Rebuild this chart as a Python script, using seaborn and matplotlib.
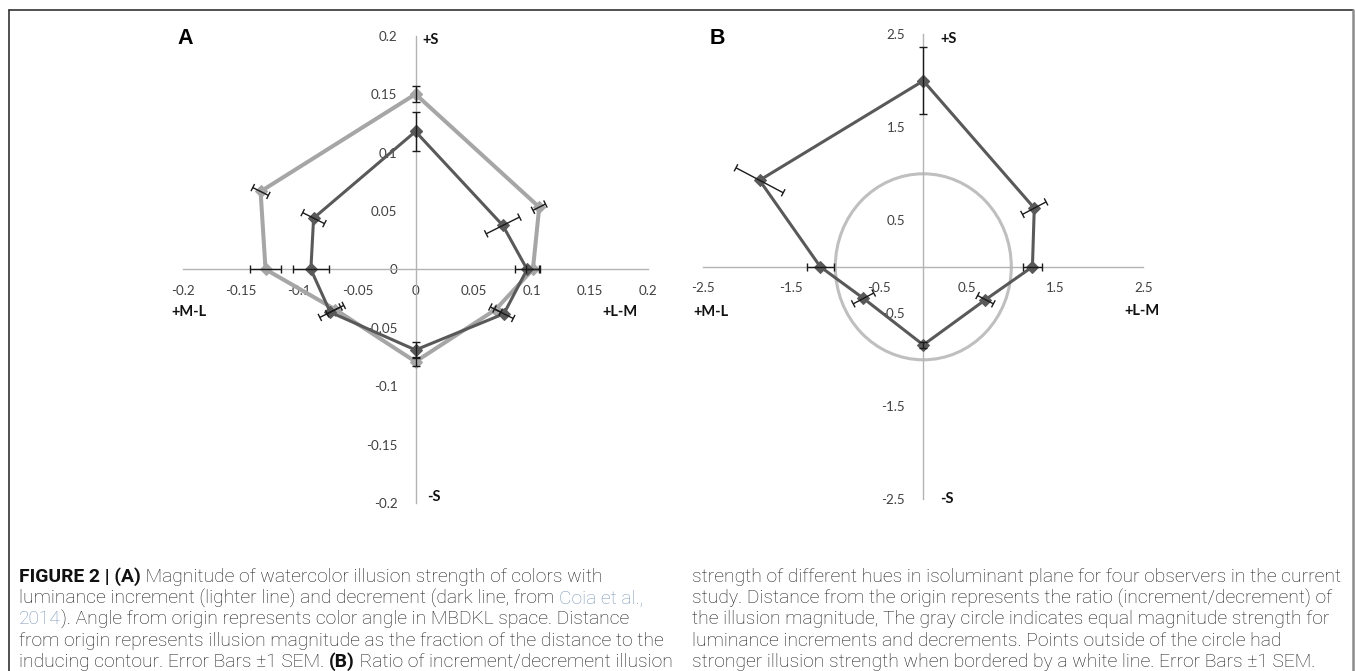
import numpy as np
import pandas as pd
import matplotlib
matplotlib.use("Agg")
import matplotlib.pyplot as plt
import seaborn as sns
from matplotlib.patches import Circle
from matplotlib.lines import Line2D

# ---------------- data ----------------
hue_angles_deg = [90, 26.57, 0, 333.43, 270, 206.57, 180, 153.43]

# Panel A: illusion magnitude (fraction of distance to inducing contour)
decrement_mag = [0.118, 0.084, 0.096, 0.085, 0.069, 0.082, 0.090, 0.098]
decrement_sem = [0.017, 0.016, 0.010, 0.009, 0.007, 0.010, 0.0155, 0.0105]
increment_mag = [0.150, 0.119, 0.101, 0.077, 0.079, 0.077, 0.129, 0.149]
increment_sem = [0.007, 0.006, 0.006, 0.005, 0.004, 0.008, 0.0135, 0.0075]

# Panel B: ratio increment / decrement
ratio_mag = [2.00, 1.41, 1.24, 0.79, 0.84, 0.76, 1.17, 2.08]
ratio_sem = [0.36, 0.15, 0.11, 0.10, 0.03, 0.13, 0.155, 0.30]
equal_strength_radius = 1.0

ticks_a = [-0.2, -0.15, -0.1, -0.05, 0, 0.05, 0.1, 0.15, 0.2]
tick_labels_a = ["-0.2", "-0.15", "-0.1", "-0.05", "0", "0.05", "0.1", "0.15", "0.2"]
ticks_b = [-2.5, -1.5, -0.5, 0.5, 1.5, 2.5]
tick_labels_b = ["-2.5", "-1.5", "-0.5", "0.5", "1.5", "2.5"]

axis_labels = {"up": "+S", "down": "-S", "left": "+M-L", "right": "+L-M"}

caption_left = [
    [("FIGURE 2 | (A)", "b"), (" Magnitude of watercolor illusion strength of colors with", "n")],
    [("luminance increment (lighter line) and decrement (dark line, from ", "n"), ("Coia et al.,", "l")],
    [("2014", "l"), ("). Angle from origin represents color angle in MBDKL space. Distance", "n")],
    [("from origin represents illusion magnitude as the fraction of the distance to the", "n")],
    [("inducing contour. Error Bars \u00b11 SEM. ", "n"), ("(B)", "b"), (" Ratio of increment/decrement illusion", "n")],
]
caption_right = [
    [("strength of different hues in isoluminant plane for four observers in the current", "n")],
    [("study. Distance from the origin represents the ratio (increment/decrement) of", "n")],
    [("the illusion magnitude, The gray circle indicates equal magnitude strength for", "n")],
    [("luminance increments and decrements. Points outside of the circle had", "n")],
    [("stronger illusion strength when bordered by a white line. Error Bars \u00b11 SEM.", "n")],
]

# ---------------- style ----------------
W, H = 1355, 671
sns.set_style("white")
plt.rcParams["font.family"] = ["Lato", "DejaVu Sans"]

DARK = "#595959"
LIGHT = "#a6a6a6"
AXIS = "#b3b3b3"
ERR = "#1a1a1a"

fig = plt.figure(figsize=(W / 100, H / 100), dpi=100)
fig.patch.set_facecolor("white")


def px_rect(x0, y0, x1, y1):
    return [x0 / W, 1 - y1 / H, (x1 - x0) / W, (y1 - y0) / H]


def polygon_frame(mags):
    th = np.deg2rad(hue_angles_deg + hue_angles_deg[:1])
    r = np.array(mags + mags[:1])
    return pd.DataFrame({"x": r * np.cos(th), "y": r * np.sin(th), "order": range(len(r))})


def style_axes(ax, ticks, labels, lim):
    ax.set_xlim(-lim, lim)
    ax.set_ylim(-lim, lim)
    for s in ("top", "right"):
        ax.spines[s].set_visible(False)
    for s in ("left", "bottom"):
        ax.spines[s].set_position(("data", 0))
        ax.spines[s].set_color(AXIS)
        ax.spines[s].set_linewidth(1.0)
    ax.set_xticks(ticks)
    ax.set_xticklabels(labels)
    ax.set_yticks(ticks)
    ax.set_yticklabels(labels)
    ax.tick_params(axis="both", direction="out", length=5, width=1, color=AXIS,
                   labelcolor="#404040", labelsize=9.6)
    ax.tick_params(axis="x", pad=6)
    ax.tick_params(axis="y", pad=8)
    ax.set_xlabel("")
    ax.set_ylabel("")
    ax.set_facecolor("none")
    ax.set_axisbelow(True)


def radial_errorbars(ax, mags, sems, cap_px=4.0):
    kw = dict(color=ERR, lw=1.0, solid_capstyle="butt", zorder=5)
    for ang, r, s in zip(hue_angles_deg, mags, sems):
        u = np.array([np.cos(np.deg2rad(ang)), np.sin(np.deg2rad(ang))])
        p0, p1 = (r - s) * u, (r + s) * u
        ax.plot([p0[0], p1[0]], [p0[1], p1[1]], **kw)
        d0, d1 = ax.transData.transform(p0), ax.transData.transform(p1)
        v = (d1 - d0) / np.linalg.norm(d1 - d0)
        n = np.array([-v[1], v[0]])
        inv = ax.transData.inverted()
        for d in (d0, d1):
            seg = inv.transform(np.array([d - n * cap_px, d + n * cap_px]))
            ax.plot(seg[:, 0], seg[:, 1], **kw)


def series(ax, mags, color, lw, ms, z):
    df = polygon_frame(mags)
    sns.lineplot(data=df, x="x", y="y", sort=False, estimator=None, ax=ax,
                 color=color, lw=lw, marker="D", ms=ms, mec=color, mfc=color, zorder=z)


# ---------------- panel A ----------------
axA = fig.add_axes(px_rect(183, 35.7, 648, 503))
series(axA, increment_mag, LIGHT, 2.9, 6.2, 3)
series(axA, decrement_mag, DARK, 2.2, 6.0, 4)
style_axes(axA, ticks_a, tick_labels_a, 0.2)
radial_errorbars(axA, increment_mag, increment_sem)
radial_errorbars(axA, decrement_mag, decrement_sem)

# ---------------- panel B ----------------
axB = fig.add_axes(px_rect(703.3, 34.3, 1143.3, 499.3))
axB.add_patch(Circle((0, 0), equal_strength_radius, fill=False, ec="#bfbfbf", lw=2.2, zorder=2))
series(axB, ratio_mag, DARK, 2.2, 6.2, 4)
style_axes(axB, ticks_b, tick_labels_b, 2.5)
radial_errorbars(axB, ratio_mag, ratio_sem)


# ---------------- text ----------------
def ftext(x, y, s, **kw):
    return fig.text(x / W, 1 - y / H, s, **kw)


lab_kw = dict(fontsize=10.5, fontweight="bold", color="#111111", va="center")
for (up, down, left, right) in [((422, 40), (427, 497), (189, 312), (620, 312)),
                                ((940, 39), (940, 499), (711, 312), (1142, 311))]:
    ftext(*up, axis_labels["up"], ha="left", **lab_kw)
    ftext(*down, axis_labels["down"], ha="left", **lab_kw)
    ftext(*left, axis_labels["left"], ha="center", **lab_kw)
    ftext(*right, axis_labels["right"], ha="center", **lab_kw)

panel_kw = dict(fontsize=15.5, fontweight="bold", color="black", va="center", ha="center",
                family=["Liberation Sans", "DejaVu Sans"])
ftext(185, 38, "A", **panel_kw)
ftext(717, 38, "B", **panel_kw)

# frame
fig.add_artist(Line2D([9 / W, 9 / W], [0, 1 - 10 / H], transform=fig.transFigure, color="#333333", lw=1.2))
fig.add_artist(Line2D([9 / W, 1353 / W], [1 - 10 / H, 1 - 10 / H], transform=fig.transFigure, color="#333333", lw=1.2))
fig.add_artist(Line2D([1353 / W, 1353 / W], [0, 1 - 10 / H], transform=fig.transFigure, color="#8c8c8c", lw=1.8))

# caption (rich text assembled piece by piece)
CAP_SIZE = 13.85
CAP_FAM = ["Roboto", "DejaVu Sans"]
styles = {
    "n": dict(fontweight="light", color="#1a1a1a"),
    "b": dict(fontweight="bold", color="#111111"),
    "l": dict(fontweight="light", color="#7d97b8"),
}
renderer = fig.canvas.get_renderer()


def text_width(s, st):
    t1 = fig.text(0, 0, "|" + s + "|", fontsize=CAP_SIZE, family=CAP_FAM, **styles[st])
    t2 = fig.text(0, 0, "||", fontsize=CAP_SIZE, family=CAP_FAM, **styles[st])
    w = t1.get_window_extent(renderer).width - t2.get_window_extent(renderer).width
    t1.remove()
    t2.remove()
    return w


def caption_block(x0, y0, lines, dy):
    for i, parts in enumerate(lines):
        x = x0
        y = y0 + i * dy
        for s, st in parts:
            ftext(x, y, s, fontsize=CAP_SIZE, family=CAP_FAM, va="center", ha="left", **styles[st])
            x += text_width(s, st)


caption_block(19, 577, caption_left, 21.2)
caption_block(692, 577, caption_right, 21.2)

fig.savefig("out.png", dpi=100, facecolor="white")
